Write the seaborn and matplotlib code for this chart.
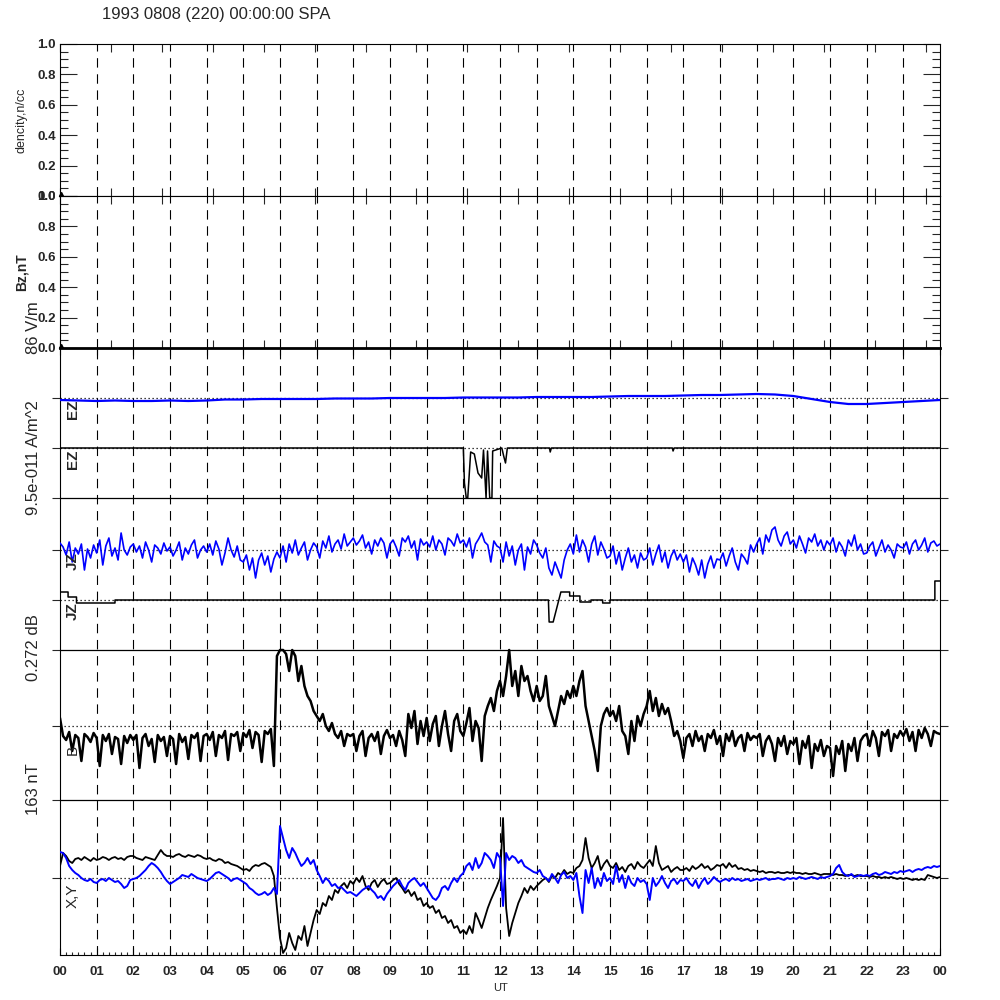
import matplotlib
matplotlib.use('Agg')
import matplotlib.pyplot as plt
import numpy as np
import seaborn as sns

# ---- data (trace amplitudes, in display units) ----
title = '1993 0808 (220) 00:00:00 SPA'
hour_labels = ['%02d' % h for h in range(24)] + ['00']

# 5-minute samples, 0h .. 24h (one row per hour)
hours_5min = np.arange(289) / 12.0

db_trace = [
    8, -10, -14, -6, -25, -9, -12, -35, -8, -11, -16, -7,
    -12, -40, -9, -15, -8, -28, -11, -13, -38, -10, -17, -9,
    -14, -9, -42, -12, -8, -20, -13, -36, -9, -15, -11, -30,
    -10, -13, -38, -8, -16, -11, -33, -9, -12, -7, -35, -10,
    -8, -14, -6, -30, -9, -12, -5, -34, -8, -10, -6, -25,
    -7, -11, -4, -22, -6, -9, -36, -5, -8, -3, -40, 70,
    76, 76, 72, 55, 76, 70, 45, 60, 40, 30, 25, 15,
    10, 5, 12, 0, -5, 3, -8, -12, -5, -20, -8, -10,
    -8, -25, -10, -5, -30, -12, -8, -15, -6, -28, -10, -4,
    -12, -9, -20, -5, -14, -30, 12, -2, 15, -18, 5, -10,
    8, -15, 2, 10, -20, 0, 15, -8, -25, 5, 12, -5,
    -10, 3, 18, -15, 5, -2, -35, 10, 20, 28, 15, 35,
    45, 30, 50, 76, 40, 55, 30, 60, 45, 50, 35, 25,
    40, 25, 30, 50, 20, 10, 0, 15, 30, 22, 35, 28,
    40, 30, 45, 55, 20, 5, -10, -25, -45, 0, 12, 18,
    10, 15, 5, 20, -5, -10, -28, 5, -15, 10, 0, 12,
    20, 35, 15, 28, 10, 22, 12, 18, 5, -10, -5, -15,
    -32, -12, -8, -20, -5, -15, -10, -25, -8, -12, -4, -18,
    -10, -30, -8, -15, -5, -20, -12, -9, -25, -7, -14, -10,
    -12, -8, -30, -15, -10, -18, -35, -12, -20, -10, -28, -15,
    -18, -12, -38, -15, -22, -10, -42, -18, -25, -14, -30, -20,
    -22, -50, -20, -28, -15, -45, -18, -25, -12, -35, -15, -10,
    -8, -20, -5, -12, -30, -6, -10, -4, -25, -8, -12, -5,
    -10, -3, -15, -6, -25, -4, -12, -2, -8, -20, -5, -7,
    -8,
]

jz_blue = [
    7, 3, -5, 8, -12, 2, -4, 6, -20, 1, -8, 5,
    -3, 10, -15, 4, 12, -6, 2, -10, 17, 0, -5, 3,
    6, -2, 4, -8, 8, 0, -12, 5, 2, -4, 7, -1,
    3, -6, 0, 8, -10, 2, -4, 5, 10, -8, 0, 4,
    -2, 6, -5, 9, 1, -15, -3, 12, 0, -7, 4, -10,
    -12, -5, -20, -8, -28, -10, -3, -15, -6, -22, -9, -2,
    -8, 4, -12, 6, -3, 10, -5, 2, 8, -10, 0, 7,
    3, -8, 9, 2, 14, -2, 6, 10, 1, 16, 4, 8,
    12, 5, 9, 15, 2, 8, -4, 10, 4, 12, 7, -8,
    6, 10, 3, -6, 12, 8, 14, 2, 9, -10, 11, 5,
    8, 3, 14, 0, 10, 6, -5, 12, 9, 4, 16, 7,
    10, 3, 12, -8, 6, 11, 17, 8, 5, -12, 9, 4,
    2, -12, 8, -6, 4, -15, 0, 6, -20, 3, -4, 10,
    5, -3, -8, 2, -18, -25, -12, -20, -28, -10, 0, 6,
    -4, 15, -2, 10, 3, -12, 6, 14, -5, 8, 1, -8,
    -6, 4, -14, -2, -20, -8, 2, -12, -5, -18, -3, -10,
    -8, 2, -15, -4, 5, -12, -2, -18, -6, 0, -10, -4,
    -12, -5, -22, -8, -15, -25, -10, -28, -14, -6, -18, -9,
    -10, -3, -16, -6, 2, -12, -20, -4, -8, -14, 5, -2,
    6, 12, -4, 15, 8, 20, 23, 10, 4, 14, 18, 6,
    10, 2, 14, 6, -3, 12, 8, 16, 4, 10, 0, 9,
    5, 12, -2, 8, 3, -6, 10, 4, 15, 0, 6, -4,
    -3, 4, 8, -6, 2, 10, -2, 5, 0, -8, 6, 3,
    2, 8, -4, 6, 10, 0, 5, 12, -2, 7, 9, 4,
    6,
]

x_black = [
    12, 25, 22, 17, 15, 19, 20, 18, 21, 19, 17, 20,
    18, 19, 21, 20, 18, 20, 21, 19, 20, 18, 21, 22,
    22, 20, 19, 18, 21, 20, 19, 18, 23, 28, 24, 22,
    22, 21, 23, 24, 22, 21, 23, 22, 21, 23, 22, 20,
    19, 20, 18, 17, 19, 18, 15, 16, 14, 13, 12, 10,
    8, 9, 7, 11, 13, 12, 14, 15, 13, 11, 2, -30,
    -60, -75, -70, -55, -65, -72, -58, -62, -48, -68, -55, -42,
    -32, -36, -25, -28, -18, -22, -12, -15, -8, -5, -10, -3,
    -6, 0, -4, 2, -8, -12, -5, -2, -9, -4, -1, -6,
    -5, -2, 0, -6, -10, -15, -12, -18, -14, -22, -20, -28,
    -25, -30, -28, -35, -32, -40, -38, -45, -42, -50, -48, -55,
    -52, -56, -48, -55, -35, -42, -50, -40, -30, -22, -15, -8,
    0, 60, -30, -58, -45, -35, -25, -18, -10, -15, -8, -12,
    -8, -5, -2, 0, -4, 2, 0, 5, 3, 8, 4, 6,
    5, 10, 12, 18, 40, 20, 10, 15, 22, 8, 14, 18,
    12, 10, 15, 8, 11, 6, 12, 14, 9, 16, 12, 10,
    14, 18, 12, 32, 15, 8, 10, 12, 6, 9, 11, 8,
    8, 10, 7, 12, 9, 11, 14, 10, 12, 8, 10, 13,
    12, 14, 10, 15, 11, 13, 9, 10, 8, 9, 7, 8,
    7, 6, 7, 5, 6, 6, 5, 6, 5, 5, 6, 5,
    6, 5, 5, 4, 5, 4, 4, 5, 4, 3, 4, 4,
    4, 3, 4, 3, 3, 2, 3, 3, 2, 3, 2, 2,
    2, 1, 2, 1, 1, 0, 1, 0, 1, 0, -1, 0,
    -1, 0, -1, -2, -1, -2, -1, -2, 3, 2, 1, 0,
    1,
]

y_blue = [
    26, 25, 20, 12, 8, 5, 3, 0, -2, -3, -1, -4,
    -5, -2, -1, -3, 0, -2, -4, -3, -6, -10, -8, -2,
    -1, 0, 2, 5, 8, 12, 15, 13, 10, 6, 1, -3,
    -6, -4, -2, 0, 3, 2, 1, 4, 2, 0, -1, -2,
    -3, -1, 2, 5, 6, 4, 2, 0, -3, -1, 0, -2,
    -4, -6, -10, -12, -15, -17, -16, -14, -17, -15, -10, -16,
    52, 40, 28, 20, 30, 25, 18, 12, 15, 20, 14, 18,
    8, 2, -5, 0, -3, -8, -6, -10, -9, -12, -15, -14,
    -16, -18, -15, -12, -10, -8, -12, -15, -20, -18, -22, -16,
    -12, -8, -5, -2, -8, -12, -5, -2, 0, -4, -8, -5,
    -10, -15, -20, -22, -18, -10, -8, -12, -5, 0, -4, 2,
    5, 12, 15, 8, 20, 10, 15, 25, 22, 18, 10, 25,
    20, -28, 25, 18, 22, 20, 15, 18, 12, 10, 8, 6,
    5, 8, 2, 0, -3, 4, 0, -5, 3, 6, 0, 2,
    -2, 5, -18, -35, 8, -5, 10, -10, 0, -8, 5, -3,
    0, -6, 12, -4, 3, -10, 2, -5, -8, 0, -4, -2,
    -6, -22, 0, -8, -4, 2, -5, -10, -3, -1, -6, -2,
    -3, 0, -5, -8, -2, -10, -4, 0, -6, -3, 1, -2,
    -4, -2, -1, -3, 0, -2, -1, -3, -2, -1, -3, -2,
    -1, -2, -1, 0, -2, -1, -1, 0, -1, -2, 0, -1,
    0, -1, 1, 0, -1, 0, 1, 0, -1, 1, 0, 1,
    2, 4, 10, 13, 6, 3, 2, 4, 1, 2, 3, 2,
    3, 2, 4, 5, 3, 4, 6, 5, 4, 6, 5, 7,
    6, 7, 8, 6, 8, 9, 8, 10, 11, 10, 12, 11,
    12,
]

# EZ (blue), half-hour samples
hours_30min = np.arange(49) / 2.0
ez_blue = [-2, -2.5, -3, -2.5, -3, -3, -2.5, -3, -2.5, -1.5,
           -1.5, -1, -1, -1, -1, -0.5, -0.5, -0.5, 0, 0,
           0, 0, 0.5, 0.5, 0.5, 0.5, 1, 1, 1, 1,
           1.5, 2, 2, 2, 2.5, 3, 3, 3.5, 4, 3.5,
           2, -1, -4, -6, -6, -5, -4, -3, -2]

# EZ (black), event samples
ez_black_t = [0, 11.0, 11.03, 11.08, 11.12, 11.2, 11.3, 11.4, 11.5, 11.55,
              11.62, 11.66, 11.72, 11.78, 11.8, 12.05, 12.1, 12.15, 12.2,
              13.35, 13.37, 13.4, 16.7, 16.72, 16.75, 24]
ez_black = [0, 0, -35, -50, -50, -4, -6, -25, -30, -2,
            -50, -3, -50, -50, -3, 0, -8, -15, 0,
            0, -4, 0, 0, -3, 0, 0]

# JZ (black), step samples
jz_black_t = [0, 0.22, 0.22, 0.45, 0.45, 1.5, 1.5, 13.32, 13.34, 13.45, 13.66,
              13.9, 13.9, 14.18, 14.18, 14.48, 14.48, 14.8, 14.8, 15.0, 15.0,
              23.86, 23.86, 24]
jz_black = [8, 8, 3, 3, -3, -3, 0, 0, -22, -22, 8,
            8, 4, 4, -2, -2, 0, 0, -3, -3, 0,
            0, 19, 19]

# ---- layout: baselines of the stacked traces (lower panel units) ----
Z_EZ1, Z_EZ2, SEP_E = 557, 507, 457
Z_JZ1, Z_JZ2, SEP_J = 405, 355, 305
Z_DB, SEP_DB = 229, 155
Z_XY = 77

sns.set_theme(style='white')
plt.rcParams['font.family'] = ['Liberation Sans', 'DejaVu Sans']
plt.rcParams['axes.linewidth'] = 0.8

fig = plt.figure(figsize=(10, 10), dpi=100)
L, W = 0.06, 0.88
DASH = (0, (8.5, 6))
DOT = (0, (1, 2.2))


def hour_lines(ax):
    for h in range(1, 24):
        ax.axvline(h, color='black', lw=0.8, ls=DASH, zorder=1)


def upper_panel(bottom, label, lsize, lweight, ly):
    ax = fig.add_axes([L, bottom, W, 0.152])
    ax.set_facecolor('white')
    hour_lines(ax)
    ax.plot([0.03], [0.01], marker='^', ms=3, color='black', clip_on=False)
    ax.set_xlim(0, 24)
    ax.set_ylim(0, 1)
    ax.set_xticks(np.arange(0, 24.01, 5000 / 3600.0))
    ax.set_xticklabels([])
    ax.set_yticks(np.arange(0, 1.01, 0.2))
    ax.set_yticks(np.arange(0, 1.01, 0.05), minor=True)
    ax.set_yticklabels(['%.1f' % v for v in np.arange(0, 1.01, 0.2)],
                       fontsize=9.5, fontweight='bold')
    ax.tick_params(axis='y', which='major', direction='in', length=12.5,
                   width=0.8, left=True, right=True, pad=3)
    ax.tick_params(axis='y', which='minor', direction='in', length=6,
                   width=0.8, left=True, right=True)
    ax.tick_params(axis='x', which='major', direction='in', length=6,
                   width=0.8, top=True, bottom=True)
    for s in ax.spines.values():
        s.set_color('black')
    fig.text(0.022, 1 - ly / 1000, label, rotation=90, ha='center',
             va='center', fontsize=lsize, fontweight=lweight)
    return ax


ax1 = upper_panel(0.804, 'dencity,n/cc', 9, 'normal', 120)
ax2 = upper_panel(0.652, 'Bz,nT', 10, 'bold', 272)

# ---- stacked traces ----
ax = fig.add_axes([L, 0.045, W, 0.607])
ax.set_facecolor('white')
hour_lines(ax)

for z in [Z_EZ1, Z_EZ2, Z_JZ1, Z_JZ2, Z_DB, Z_XY]:
    ax.axhline(z, color='black', lw=0.9, ls=DOT, zorder=2)
for z in [SEP_E, SEP_J, SEP_DB]:
    ax.axhline(z, color='black', lw=0.9, zorder=2)

sns.lineplot(x=hours_30min, y=Z_EZ1 + np.array(ez_blue), ax=ax, color='#0000ff',
             lw=1.6, estimator=None, sort=False, zorder=4)
sns.lineplot(x=ez_black_t, y=Z_EZ2 + np.array(ez_black), ax=ax, color='black',
             lw=1.1, estimator=None, sort=False, zorder=4)
sns.lineplot(x=hours_5min, y=Z_JZ1 + np.array(jz_blue), ax=ax, color='#0000ff',
             lw=1.2, estimator=None, sort=False, zorder=4)
sns.lineplot(x=jz_black_t, y=Z_JZ2 + np.array(jz_black), ax=ax, color='black',
             lw=1.1, estimator=None, sort=False, zorder=4)
sns.lineplot(x=hours_5min, y=Z_DB + np.array(db_trace), ax=ax, color='black',
             lw=1.8, estimator=None, sort=False, zorder=4)
sns.lineplot(x=hours_5min, y=Z_XY + np.array(x_black), ax=ax, color='black',
             lw=1.3, estimator=None, sort=False, zorder=4)
sns.lineplot(x=hours_5min, y=Z_XY + np.array(y_blue), ax=ax, color='#0000ff',
             lw=1.4, estimator=None, sort=False, zorder=5)

ax.set_xlim(0, 24)
ax.set_ylim(0, 607)
ax.set_xlabel('')
ax.set_ylabel('')
ax.set_yticks([Z_EZ1, Z_EZ2, SEP_E, Z_JZ1, Z_JZ2, SEP_J, Z_DB, SEP_DB, Z_XY])
ax.set_yticklabels([])
ax.tick_params(axis='y', which='major', direction='out', length=5.8,
               width=0.8, left=True, right=True)
ax.set_xticks(range(25))
ax.set_xticks(np.arange(0, 24.01, 1 / 6.0), minor=True)
ax.set_xticklabels(hour_labels, fontsize=9.5, fontweight='bold')
ax.tick_params(axis='x', which='major', direction='in', length=5, width=0.8,
               bottom=True, top=True, pad=8)
ax.tick_params(axis='x', which='minor', direction='in', length=2.5, width=0.8,
               bottom=True, top=False)
for s in ax.spines.values():
    s.set_color('black')
ax.spines['top'].set_linewidth(2.0)

# trace names inside the panel
for ytxt, name, wt in [(409, 'EZ', 'bold'), (459, 'EZ', 'bold'),
                       (561, 'JZ', 'bold'), (611, 'JZ', 'bold'),
                       (750, 'B', 'normal'), (896, 'X,Y', 'normal')]:
    fig.text(0.073, 1 - ytxt / 1000, name, rotation=90, ha='center',
             va='center', fontsize=11, fontweight=wt, zorder=0)

# scale labels on the left
for ytxt, name in [(328, '86 V/m'), (458, '9.5e-011 A/m^2'),
                   (648, '0.272 dB'), (789, '163 nT')]:
    fig.text(0.033, 1 - ytxt / 1000, name, rotation=90, ha='center',
             va='center', fontsize=12)

fig.text(0.102, 0.986, title, ha='left', va='center', fontsize=12)
fig.text(0.5, 0.012, 'UT', ha='center', va='center', fontsize=8)

fig.savefig('out.png', dpi=100, facecolor='white')
